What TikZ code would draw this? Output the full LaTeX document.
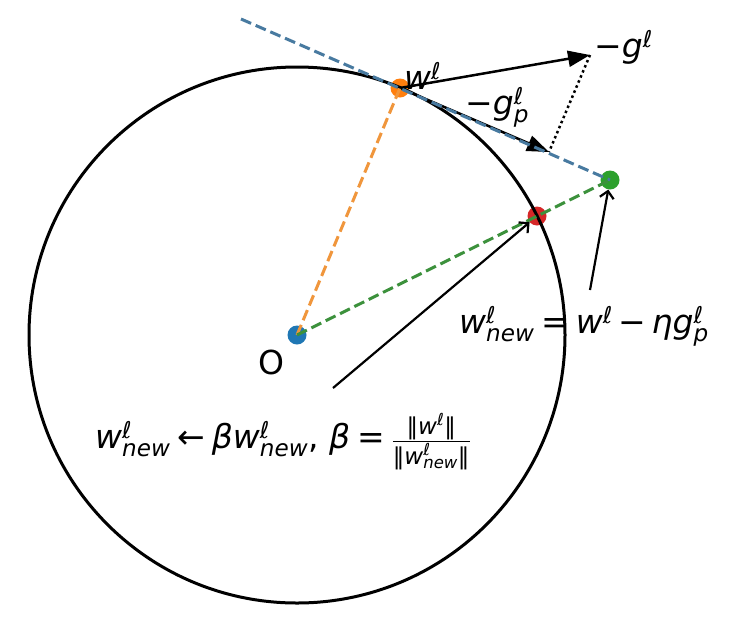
\documentclass[tikz,border=0pt]{standalone}
\usepackage{amsmath}
\usepackage{fontspec}
\setmainfont{DejaVu Sans}
\usetikzlibrary{arrows.meta}
\newcommand\vv[1]{\text{\itshape #1}}
\newcommand\el{\vv{ℓ}}
\definecolor{c0}{RGB}{31,119,180}
\definecolor{c1}{RGB}{255,127,14}
\definecolor{c2}{RGB}{44,160,44}
\definecolor{c3}{RGB}{214,39,40}
\definecolor{c0d}{RGB}{72,122,160}
\definecolor{c1d}{RGB}{240,150,60}
\definecolor{c2d}{RGB}{60,145,60}
\begin{document}
\begin{tikzpicture}[x=1pt,y=-1pt,font=\fontsize{33}{40}\selectfont,
  dot/.style={circle,inner sep=0pt,minimum size=19pt},
  dsh/.style={line width=3pt,dash pattern=on 11pt off 5pt},
  gvec/.style={line width=2.5pt,-{Triangle[length=22pt,width=16pt]}},
  ann/.style={line width=2.2pt,-{Straight Barb[length=7pt,width=14pt]}},
  dotl/.style={line width=2.5pt,dash pattern=on 2.5pt off 3pt},
  lab/.style={anchor=base west,inner sep=0pt}]
\useasboundingbox (0,0) rectangle (736,619);
\fill[white] (0,0) rectangle (736,619);
\node[dot,fill=c0] (O) at (297,335) {};
\node[dot,fill=c1] (W) at (400,88) {};
\node[dot,fill=c3] (R) at (537,216) {};
\node[dot,fill=c2] (G) at (610,180) {};
\coordinate (T0) at (241,19);
\coordinate (GT) at (590,55);
\coordinate (GP) at (549,152);
\coordinate (A1) at (333,388);
\coordinate (A2) at (590,290);
\draw[line width=3pt] (O.center) circle[radius=268pt];
\draw[gvec] (W.center) -- (GT);
\draw[gvec] (W.center) -- (GP);
\draw[dotl] (GT) -- (GP);
\draw[dsh,c0d] (T0) -- (G.center);
\draw[dsh,c1d] (O.center) -- (W.center);
\draw[dsh,c2d] (O.center) -- (G.center);
\draw[ann] (A1) -- (R);
\draw[ann] (A2) -- (G);
\node[lab] (Lw) at (404,89) {$\vv{w}^{\el}$};
\node[lab] (Lg) at (594,57) {$\text{−}\vv{g}^{\el}$};
\node[lab] (Lgp) at (465,114) {$\text{−}\vv{g}^{\el}_{\vv{p}}$};
\node (LO) at (271,362) {O};
\node[lab] (Lnew) at (459,333) {$\vv{w}^{\el}_{\vv{new}} \mathrel{\text{=}} \vv{w}^{\el} \mathbin{\text{−}} \vv{η}\vv{g}^{\el}_{\vv{p}}$};
\node[lab] (Lb) at (95,448) {$\vv{w}^{\el}_{\vv{new}} \mathrel{\text{←}} \vv{β}\vv{w}^{\el}_{\vv{new}}\text{,}\ \vv{β} \mathrel{\text{=}} \frac{\text{‖}\vv{w}^{\el}\text{‖}}{\text{‖}\vv{w}^{\el}_{\vv{new}}\text{‖}}$};
\end{tikzpicture}
\end{document}
